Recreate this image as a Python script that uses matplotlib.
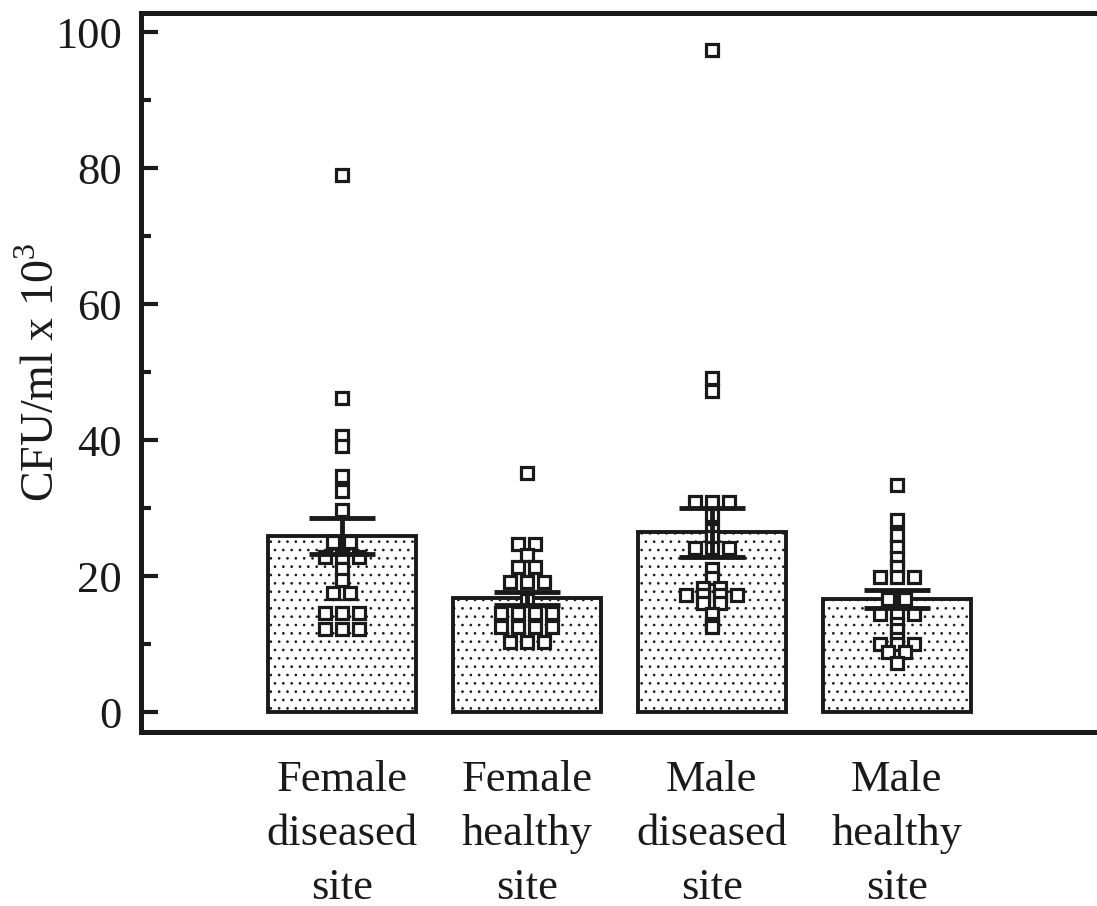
import numpy as np
import matplotlib
matplotlib.use('Agg')
import matplotlib.pyplot as plt

plt.rcParams['font.family'] = ['Liberation Serif', 'DejaVu Serif']
plt.rcParams['mathtext.fontset'] = 'custom'
plt.rcParams['mathtext.rm'] = 'Liberation Serif'
plt.rcParams['hatch.linewidth'] = 0.7
plt.rcParams['hatch.color'] = '#1a1a1a'

categories = ['Female\ndiseased\nsite', 'Female\nhealthy\nsite',
              'Male\ndiseased\nsite', 'Male\nhealthy\nsite']
means = [25.9, 16.8, 26.5, 16.7]
errors = [2.65, 0.95, 3.6, 1.3]

female_diseased = [79.0, 46.2, 40.6, 39.2, 34.8, 32.6, 29.8, 25.0, 25.0,
                   22.8, 22.8, 22.8, 21.1, 19.4, 17.5, 17.5,
                   14.6, 14.6, 14.6, 12.2, 12.2, 12.2]
female_healthy = [35.2, 24.8, 24.8, 23.1, 21.4, 21.4, 19.2, 19.2, 19.2, 16.5,
                  14.6, 14.6, 14.6, 14.6, 12.5, 12.5, 12.5, 12.5,
                  10.4, 10.4, 10.4]
male_diseased = [97.4, 49.2, 47.3, 30.9, 30.9, 30.9, 29.0, 26.8, 25.8,
                 24.1, 24.1, 24.1, 21.1, 19.7, 18.3, 18.3,
                 17.2, 17.2, 17.2, 17.2, 16.0, 16.0, 14.5, 13.0, 12.5]
male_healthy = [33.4, 28.2, 26.0, 24.3, 22.7, 21.3, 19.9, 19.9, 19.9,
                16.7, 16.7, 14.4, 14.4, 14.4, 13.0, 12.1, 10.8,
                10.1, 10.1, 10.1, 8.9, 8.9, 7.2]
groups = [female_diseased, female_healthy, male_diseased, male_healthy]

ink = '#1a1a1a'
step = 0.092  # horizontal spacing of stacked squares

fig = plt.figure(figsize=(10.97, 9.06), dpi=100)
ax = fig.add_axes([0.1285, 0.192, 0.874, 0.7936])

xpos = np.arange(len(categories))
ax.bar(xpos, means, width=0.8, facecolor='white', edgecolor=ink,
       linewidth=2.8, hatch='..', zorder=1)

# swarm-like layout: equal values are spread side by side
for i, vals in enumerate(groups):
    vals = np.array(vals)
    xs = np.zeros(len(vals))
    for v in np.unique(vals):
        idx = np.where(vals == v)[0]
        n = len(idx)
        xs[idx] = i + (np.arange(n) - (n - 1) / 2) * step
    ax.plot(xs, vals, 's', ms=8.8, mfc='white', mec=ink, mew=2.3,
            linestyle='none', zorder=2)

ax.errorbar(xpos, means, yerr=errors, fmt='none', ecolor=ink,
            elinewidth=3.5, capsize=24, capthick=3.5, zorder=3)

ax.set_xlim(-1.086, 4.098)
ax.set_ylim(-2.9, 102.8)
ax.set_yticks([0, 20, 40, 60, 80, 100])
ax.set_yticks([10, 30, 50, 70, 90], minor=True)
ax.set_xticks(xpos)
ax.set_xticklabels(categories, fontsize=32, linespacing=1.45)
ax.tick_params(axis='x', length=0, pad=20, colors=ink)
ax.tick_params(axis='y', which='major', direction='in', length=12, width=3,
               labelsize=32, pad=14, colors=ink, right=False)
ax.tick_params(axis='y', which='minor', direction='in', length=7, width=3,
               colors=ink, right=False)

for side in ['left', 'top', 'bottom', 'right']:
    ax.spines[side].set_linewidth(3.6)
    ax.spines[side].set_color(ink)

ax.set_ylabel(r'CFU/ml x 10$^{3}$', fontsize=33, color=ink)
ax.yaxis.set_label_coords(-0.080, 0.5)

fig.savefig('out.png', dpi=100, facecolor='white')
